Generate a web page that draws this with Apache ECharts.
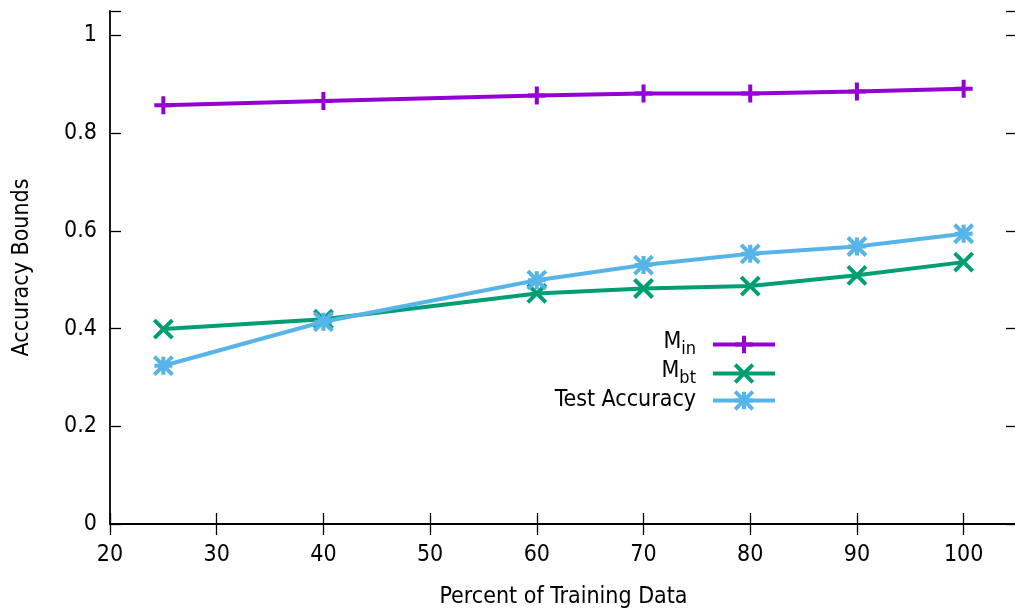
<!DOCTYPE html>
<html>
<head>
<meta charset="utf-8">
<script src="https://cdn.jsdelivr.net/npm/echarts@6/dist/echarts.min.js"></script>
<style>
html,body{margin:0;padding:0;background:#fff;}
#chart{width:1015px;height:608px;}
</style>
</head>
<body>
<div id="chart"></div>
<script>
const xValues = [25, 40, 60, 70, 80, 90, 100];
const mIn = [0.857, 0.866, 0.877, 0.881, 0.881, 0.885, 0.891];
const mBt = [0.399, 0.419, 0.472, 0.482, 0.487, 0.509, 0.536];
const testAcc = [0.324, 0.414, 0.499, 0.530, 0.553, 0.568, 0.594];
const seriesNames = ['Min', 'Mbt', 'Test Accuracy'];
const xTitle = 'Percent of Training Data';
const yTitle = 'Accuracy Bounds';

const FONT = "'DejaVu Sans Condensed', 'Liberation Sans', sans-serif";
const FS = 23;
const colors = ['#9400D3', '#009E73', '#56B4E9'];
const symbols = [
  'path://M0,5L10,5M5,0L5,10',
  'path://M0,0L10,10M0,10L10,0',
  'path://M0,5L10,5M5,0L5,10M0,0L10,10M0,10L10,0'
];
const dataSets = [mIn, mBt, testAcc];

function pairs(arr) { return xValues.map((x, i) => [x, arr[i]]); }

const series = seriesNames.map((name, k) => ({
  name: name,
  type: 'line',
  data: pairs(dataSets[k]),
  symbol: symbols[k],
  symbolSize: 18,
  showAllSymbol: true,
  lineStyle: { color: colors[k], width: 4 },
  itemStyle: { color: colors[k], borderColor: colors[k], borderWidth: 4 },
  emphasis: { disabled: true },
  silent: true,
  z: 2 + k
}));

const legendTops = [331, 360, 389];
const legends = seriesNames.map((name, k) => ({
  data: [name],
  right: 238,
  top: legendTops[k],
  orient: 'vertical',
  align: 'right',
  itemWidth: 62,
  itemHeight: 22,
  padding: 0,
  selectedMode: false,
  itemStyle: { borderWidth: 4, borderColor: colors[k], color: colors[k] },
  lineStyle: { width: 4, color: colors[k] },
  textStyle: {
    fontFamily: FONT, fontSize: FS, color: '#000', padding: [0, 12, 0, 0],
    rich: {
      m: { fontFamily: FONT, fontSize: FS, color: '#000', verticalAlign: 'top' },
      s: { fontFamily: FONT, fontSize: 18, color: '#000', verticalAlign: 'bottom', padding: [9, 0, 0, 0] }
    }
  },
  formatter: function (n) {
    if (n === 'Min') return '{m|M}{s|in}';
    if (n === 'Mbt') return '{m|M}{s|bt}';
    return n;
  }
}));

const axisLine = { show: true, lineStyle: { color: '#000', width: 1.8 } };
const tick = { show: true, inside: true, length: 11, lineStyle: { color: '#000', width: 1.3 } };

const option = {
  animation: false,
  backgroundColor: '#fff',
  grid: { left: 110, right: -2, top: 11, bottom: 84, show: false, containLabel: false, outerBoundsMode: 'none' },
  legend: legends,
  xAxis: [{
    type: 'value', min: 20, max: 105, interval: 10, position: 'bottom',
    name: xTitle, nameLocation: 'middle', nameGap: 62,
    nameTextStyle: { fontFamily: FONT, fontSize: FS, color: '#000' },
    axisLine: axisLine, axisTick: tick, splitLine: { show: false },
    axisLabel: { fontFamily: FONT, fontSize: FS, color: '#000', margin: 20,
      formatter: v => (v > 100 ? '' : String(v)) }
  }, {
    type: 'value', min: 20, max: 105, interval: 10, position: 'top',
    axisLine: axisLine, axisTick: tick, splitLine: { show: false },
    axisLabel: { show: false }
  }],
  yAxis: [{
    type: 'value', min: 0, max: 1.05, interval: 0.2, position: 'left',
    name: yTitle, nameLocation: 'middle', nameGap: 76, nameRotate: 90,
    nameTextStyle: { fontFamily: FONT, fontSize: FS, color: '#000' },
    axisLine: axisLine, axisTick: tick, splitLine: { show: false },
    axisLabel: { fontFamily: FONT, fontSize: FS, color: '#000', margin: 13,
      formatter: v => (v > 1.001 ? '' : String(+v.toFixed(1))) }
  }, {
    type: 'value', min: 0, max: 1.05, interval: 0.2, position: 'right',
    axisLine: axisLine, axisTick: tick, splitLine: { show: false },
    axisLabel: { show: false }
  }],
  series: series
};

const chart = echarts.init(document.getElementById('chart'), null, { renderer: 'canvas' });
chart.setOption(option);
</script>
</body>
</html>
